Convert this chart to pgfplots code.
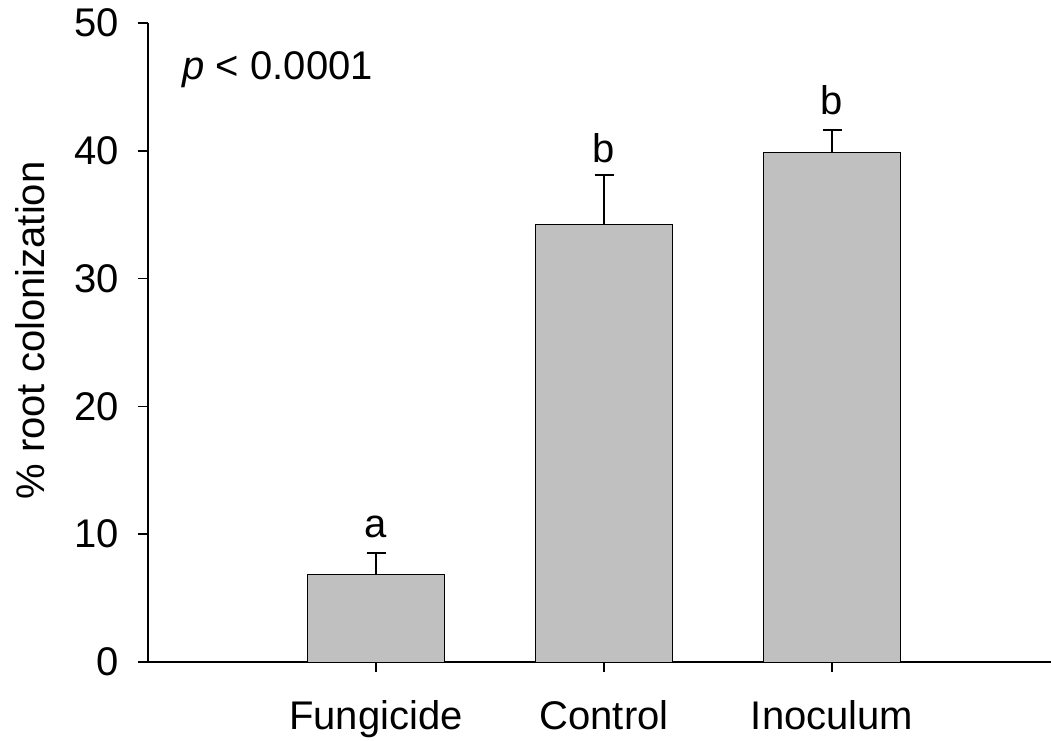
\documentclass[border=0pt]{standalone}
\usepackage{fontspec}
\setmainfont{Liberation Sans}
\usepackage{pgfplots}
\pgfplotsset{compat=1.18}
\begin{document}
\begin{tikzpicture}
\useasboundingbox (-74pt,-39pt) rectangle (451.5pt,331pt);
\begin{axis}[
  scale only axis,
  width=451.5pt, height=319.5pt,
  at={(0,0)}, anchor=south west,
  xmin=0, xmax=3.96, ymin=0, ymax=50,
  axis lines*=left,
  axis line style={line width=1pt},
  tick style={line width=0.8pt, black},
  tick align=outside,
  major tick length=5pt,
  xtick={1,2,3},
  xticklabels={Fungicide,Control,Inoculum},
  ytick={0,10,20,30,40,50},
  font=\fontsize{20}{24}\selectfont,
  /pgf/number format/assume math mode=true,
  ylabel={\% root colonization},
  ylabel style={at={(axis description cs:0,0.5)}, anchor=south, xshift=6pt, yshift=48pt},
  yticklabel style={xshift=-6pt},
  xticklabel style={yshift=-10.5pt},
  clip=false,
]
\addplot[ybar, bar width=0.6, fill={rgb,255:red,192;green,192;blue,192}, draw=black, line width=0.5pt,
  error bars/.cd, y dir=plus, y explicit,
  error bar style={line width=0.6pt, black},
  error mark options={rotate=90, mark size=4.75pt, line width=0.6pt, black}]
  coordinates {(1,6.81) +- (0,1.72) (2,34.27) +- (0,3.84) (3,39.83) +- (0,1.80)};
\node[anchor=base] at (axis cs:1,8.53) [yshift=7.5pt] {a};
\node[anchor=base] at (axis cs:2,38.11) [yshift=6pt] {b};
\node[anchor=base] at (axis cs:3,41.63) [yshift=7.5pt] {b};
\node[anchor=base west, inner sep=0pt] at (axis cs:0.15,45.55) {\textit{p} < 0.0001};
\end{axis}
\end{tikzpicture}
\end{document}
